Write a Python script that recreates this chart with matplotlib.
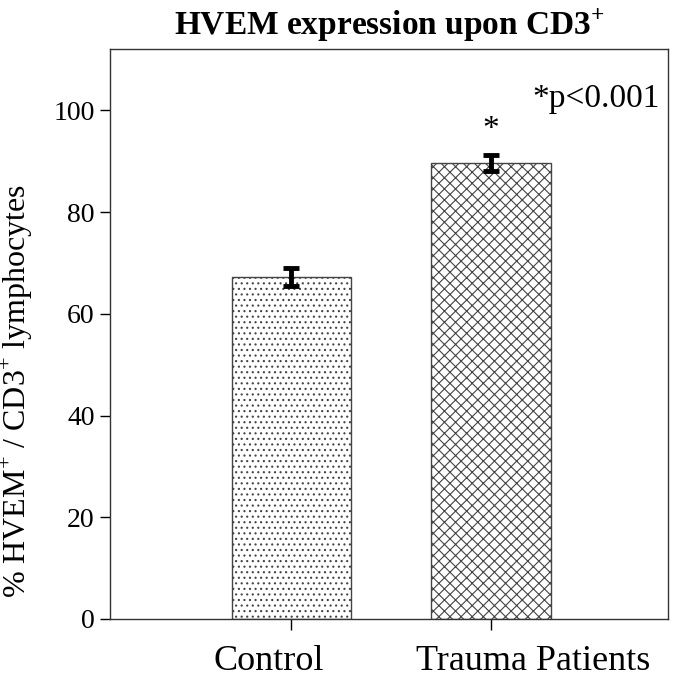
import numpy as np
import matplotlib
matplotlib.use("Agg")
import matplotlib.pyplot as plt

matplotlib.rcParams.update({
    "font.family": "Liberation Serif",
    "mathtext.fontset": "custom",
    "mathtext.rm": "Liberation Serif",
    "mathtext.bf": "Liberation Serif:bold",
    "hatch.linewidth": 0.8,
})

# data
groups = ["Control", "Trauma Patients"]
means = [67.2, 89.6]
errors = [1.8, 1.6]
hatches = ["...", "xxx"]
y_ticks = [0, 20, 40, 60, 80, 100]

fig = plt.figure(figsize=(6.75, 6.85), dpi=100)
ax = fig.add_axes([0.163, 0.0964, 0.827, 0.8316])

x = np.arange(len(groups))
bars = ax.bar(x, means, width=0.6, color="white", edgecolor="#444444", linewidth=1.0, zorder=2)
for b, h in zip(bars, hatches):
    b.set_hatch(h)
ax.errorbar(x, means, yerr=errors, fmt="none", ecolor="black", elinewidth=3.5,
            capsize=6, capthick=3.5, zorder=3)

ax.set_xlim(-0.91, 1.89)
ax.set_ylim(0, 112)
ax.set_yticks(y_ticks)
ax.set_xticks(x)
ax.set_xticklabels([])
# category labels sit a bit apart from the tick marks in the original
label_offsets = [-0.115, 0.21]
for xi, name, off in zip(x, groups, label_offsets):
    ax.text(xi + off, -0.075, name, transform=ax.get_xaxis_transform(),
            ha="center", va="center", fontsize=26)
ax.tick_params(axis="y", labelsize=20, direction="out", length=7, width=1, pad=4)
ax.tick_params(axis="x", direction="out", length=8, width=1)
for s in ax.spines.values():
    s.set_linewidth(1.0)
    s.set_color("#333333")

ax.set_ylabel(r"% HVEM$^{+}$ / CD3$^{+}$ lymphocytes", fontsize=23)
ax.yaxis.set_label_coords(-0.135, 0.40)
ax.set_title(r"HVEM expression upon CD3$^{\mathbf{+}}$", fontsize=24, fontweight="bold", pad=10)

ax.text(1, means[1] + errors[1] + 2, "*", ha="center", va="bottom", fontsize=24)
ax.text(0.985, 0.94, "*p<0.001", transform=ax.transAxes, ha="right", va="top", fontsize=24)

fig.savefig("out.png", dpi=100)
